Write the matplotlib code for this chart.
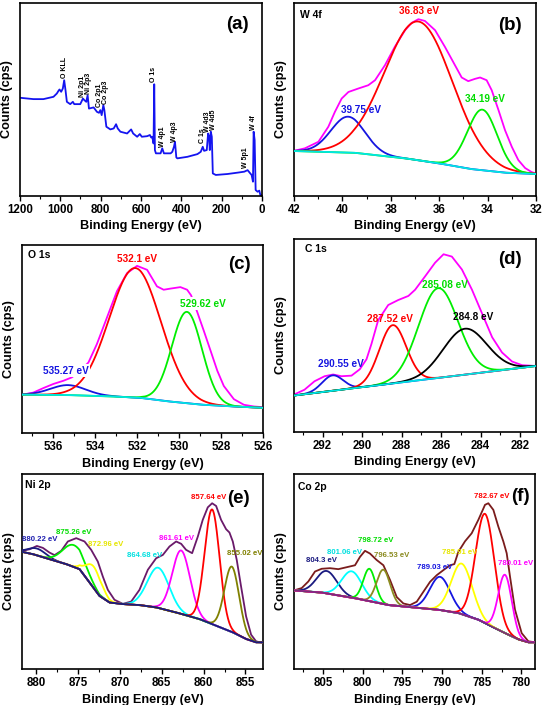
import numpy as np
import matplotlib
matplotlib.use("Agg")
import matplotlib.pyplot as plt
from matplotlib.ticker import MultipleLocator

plt.rcParams['font.family'] = ['Liberation Sans', 'DejaVu Sans']
plt.rcParams['font.weight'] = 'bold'
plt.rcParams['axes.labelweight'] = 'bold'

# ---------------- DATA ----------------
# (a) survey spectrum
survey_be = [1200, 1133.6, 1083.8, 1034.0, 1017.4, 1009.1, 1004.1, 995.9, 987.6, 980.9, 974.3, 967.6,
             951.0, 937.8, 931.1, 901.2, 887.9, 881.3, 871.4, 864.7, 858.1, 834.9, 818.3, 808.3, 801.7,
             795.0, 786.7, 781.7, 771.8, 751.9, 735.3, 723.6, 715.4, 702.1, 668.9, 648.9, 639.0, 619.1,
             605.8, 595.9, 569.3, 556.0, 549.4, 544.4, 537.8, 534.4, 531.1, 526.1, 502.9, 494.6, 486.3,
             453.1, 444.8, 436.5, 431.5, 424.9, 419.9, 370.1, 320.3, 303.7, 293.8, 287.1, 273.9, 267.2,
             262.2, 258.9, 253.9, 248.9, 243.9, 229.0, 170.9, 121.2, 88.0, 71.4, 58.1, 51.5, 44.8, 41.5,
             36.5, 31.5, 21.6, 13.3, 8.3, 0]
survey_counts = [50.9, 50.2, 50.2, 51.4, 53.1, 54.5, 55.2, 54.0, 55.7, 60.0, 54.8, 48.8,
                 47.6, 48.8, 47.6, 47.6, 50.5, 49.7, 48.8, 52.2, 45.3, 45.9, 43.6, 43.1, 44.5,
                 41.9, 47.1, 44.5, 35.9, 34.5, 35.0, 37.2, 35.0, 33.3, 32.4, 34.5, 32.4, 30.7,
                 32.1, 30.7, 31.0, 31.6, 30.3, 30.7, 27.2, 57.9, 23.8, 22.1, 22.1, 24.7, 22.1,
                 22.1, 22.9, 25.5, 28.1, 20.0, 19.5, 20.3, 21.7, 22.9, 25.5, 23.4, 23.8, 32.4,
                 30.7, 23.8, 33.3, 30.7, 11.7, 10.9, 11.4, 12.1, 12.6, 13.4, 11.7, 10.9, 7.4, 33.3,
                 29.0, 3.1, 2.2, 2.8, 0.5, 0.5]
survey_peak_names = ['O KLL', 'Ni 2p1', 'Ni 2p3', 'Co 2p1', 'Co 2p3', 'O 1s', 'W 4p1', 'W 4p3',
                     'C 1s', 'W 4d3', 'W 4d5', 'W 5p1', 'W 4f']
survey_peak_be = [981, 891, 860, 808, 777, 536, 491, 433, 297, 270, 242, 80, 42]
survey_peak_counts = [61.0, 51.4, 53.1, 45.9, 47.9, 59.1, 25.5, 28.1, 27.6, 33.3, 34.1, 14.3, 34.1]

# (b) W 4f
w4f_env_be = [42.00, 41.55, 40.99, 40.58, 40.31, 40.03, 39.75, 39.34, 38.93, 38.65, 38.24, 37.83,
              37.41, 37.14, 36.86, 36.59, 36.17, 35.76, 35.35, 35.07, 34.80, 34.52, 34.31, 34.04,
              33.83, 33.55, 33.28, 33.00, 32.73, 32.45, 32.18, 32.00]
w4f_env_counts = [23.4, 24.7, 28.1, 35.9, 43.6, 50.5, 53.9, 55.7, 57.4, 60.0, 67.8, 77.4,
                  85.9, 89.7, 91.6, 90.7, 85.9, 77.2, 67.8, 61.4, 59.5, 60.7, 61.4, 60.0,
                  54.8, 44.5, 34.1, 25.5, 18.6, 14.5, 12.4, 11.6]
w4f_bg_be = [42.0, 39.5, 37.4, 36.0, 34.7, 33.3, 32.0]
w4f_bg_counts = [23.3, 22.4, 19.5, 16.9, 14.0, 12.1, 11.4]
w4f_centers = [39.77, 36.86, 34.22]
w4f_heights = [18.6, 71.9, 31.4]
w4f_fwhm = [1.65, 3.3, 1.45]
w4f_labels = ['39.75 eV', '36.83 eV', '34.19 eV']

# (c) O 1s
o1s_env_be = [537.48, 536.96, 536.48, 536.00, 535.52, 535.12, 534.72, 534.33, 533.93, 533.45, 532.97,
              532.49, 532.01, 531.53, 531.06, 530.74, 530.42, 529.94, 529.62, 529.43, 529.14, 528.82,
              528.50, 528.18, 527.87, 527.39, 526.91, 526.43, 525.95]
o1s_env_counts = [20.4, 21.5, 23.9, 26.1, 27.8, 29.6, 33.1, 37.5, 47.2, 61.3, 75.4,
                  85.0, 88.9, 86.8, 78.0, 76.2, 76.8, 77.6, 76.2, 73.2, 64.4, 54.2,
                  43.7, 33.1, 25.0, 18.0, 15.0, 14.1, 13.7]
o1s_bg_be = [537.5, 535.36, 533.3, 531.85, 530.58, 528.98, 527.39, 526.0]
o1s_bg_counts = [20.4, 20.2, 19.5, 18.7, 16.9, 15.1, 14.1, 13.4]
o1s_centers = [535.3, 532.1, 529.63]
o1s_heights = [5.3, 68.9, 48.6]
o1s_fwhm = [2.0, 2.9, 1.7]
o1s_labels = ['535.27 eV', '532.1 eV', '529.62 eV']

# (d) C 1s
c1s_env_be = [293.47, 292.92, 292.41, 291.90, 291.47, 291.05, 290.54, 290.12, 289.78, 289.53, 289.19,
              288.68, 288.17, 287.66, 287.32, 286.81, 286.31, 285.88, 285.46, 284.95, 284.44, 283.93,
              283.42, 282.92, 282.41, 281.90, 281.17]
c1s_env_counts = [19.3, 21.9, 26.3, 28.9, 29.8, 28.9, 29.2, 32.5, 37.7, 45.6, 57.9,
                  65.8, 68.4, 70.5, 73.7, 80.7, 87.7, 92.1, 90.9, 84.2, 73.7, 61.4,
                  49.1, 41.2, 36.5, 34.6, 34.2]
c1s_bg_be = [293.45, 287.3, 281.2]
c1s_bg_counts = [18.9, 26.6, 34.2]
c1s_centers = [291.5, 288.45, 286.15, 284.8]
c1s_heights = [8.0, 30.2, 46.5, 23.8]
c1s_fwhm = [1.25, 1.6, 2.35, 2.6]
c1s_labels = ['290.55 eV', '287.52 eV', '285.08 eV', '284.8 eV']

# (e) Ni 2p
ni_env_be = [881.71, 880.80, 879.92, 879.20, 878.41, 877.81, 877.01, 876.22, 875.22, 874.23, 873.43,
             872.64, 872.04, 871.44, 870.65, 869.65, 868.65, 867.66, 866.66, 865.67, 864.87, 864.08,
             863.28, 862.68, 862.09, 861.37, 860.69, 860.10, 859.50, 858.98, 858.50, 857.91, 857.31,
             856.91, 856.51, 856.04, 855.52, 854.92, 854.32, 853.73, 852.93]
ni_env_counts = [60.6, 61.4, 63.1, 62.1, 59.7, 58.4, 60.6, 65.4, 67.1, 65.4, 61.1,
                 55.1, 47.4, 40.6, 35.5, 33.4, 34.6, 40.6, 50.9, 56.8, 58.5, 62.8,
                 65.4, 64.2, 61.1, 59.4, 67.9, 76.5, 82.9, 85.0, 83.6, 76.5, 71.7,
                 70.0, 65.4, 56.0, 42.3, 27.0, 17.6, 14.2, 13.3]
ni_bg_be = [881.71, 880.40, 878.41, 876.42, 874.82, 873.63, 872.44, 871.24, 869.65, 867.66, 865.67,
            863.28, 860.49, 858.50, 856.51, 854.92, 853.73, 852.93]
ni_bg_counts = [60.1, 58.9, 56.3, 53.8, 51.2, 44.4, 37.5, 34.1, 33.3, 32.8, 31.6,
                29.0, 25.6, 22.2, 18.8, 15.4, 13.7, 13.7]
ni_centers = [879.9, 875.5, 873.1, 865.43, 862.68, 858.98, 856.63]
ni_heights = [3.5, 11.2, 11.0, 20.6, 32.5, 58.8, 33.5]
ni_fwhm = [2.5, 3.1, 2.2, 3.07, 2.5, 2.1, 2.07]
ni_labels = ['880.22 eV', '875.26 eV', '872.96 eV', '864.68 eV', '861.61 eV', '857.64 eV', '855.02 eV']

# (f) Co 2p
co_env_be = [808.66, 807.69, 806.85, 806.01, 805.17, 804.12, 803.07, 802.02, 800.97, 800.34, 799.71,
             799.08, 798.24, 797.39, 796.55, 795.71, 794.87, 794.03, 793.19, 792.35, 791.51, 790.67,
             789.83, 788.99, 788.45, 787.94, 787.10, 786.26, 785.42, 784.58, 784.16, 783.53, 782.90,
             782.27, 781.85, 781.43, 780.80, 779.96, 779.12, 778.28]
co_env_counts = [40.3, 41.5, 44.9, 50.0, 51.4, 51.7, 51.2, 52.2, 53.2, 57.5, 60.6,
                 59.2, 55.9, 53.2, 45.6, 36.9, 33.6, 32.8, 34.5, 39.6, 44.7, 48.1,
                 50.7, 53.2, 53.8, 60.1, 65.5, 69.6, 76.5, 84.2, 85.0, 81.6, 73.0,
                 65.4, 59.4, 47.4, 30.4, 18.4, 14.2, 13.7]
co_bg_be = [808.66, 805.17, 800.97, 796.76, 794.66, 790.46, 787.94, 785.42, 783.74, 782.06, 780.38,
            779.12, 778.28]
co_bg_counts = [40.3, 39.2, 36.3, 32.8, 32.0, 30.4, 28.7, 25.3, 21.8, 18.4, 15.2, 13.7, 13.7]
co_centers = [804.54, 801.39, 799.16, 797.39, 790.25, 787.52, 784.58, 782.06]
co_heights = [11.5, 13.5, 16.6, 17.6, 17.0, 25.9, 56.0, 29.9]
co_fwhm = [3.0, 3.0, 1.8, 2.0, 3.0, 3.1, 2.8, 2.0]
co_labels = ['804.3 eV', '801.06 eV', '798.72 eV', '796.53 eV', '789.03 eV', '785.91 eV',
             '782.67 eV', '780.01 eV']

# ---------------- FIGURE ----------------
W, H = 543, 705
fig = plt.figure(figsize=(W / 100, H / 100), dpi=100)


def make_ax(l, r, t, b):
    ax = fig.add_axes([l / W, 1 - b / H, (r - l) / W, (b - t) / H])
    for s in ax.spines.values():
        s.set_linewidth(1.2)
    ax.set_yticks([])
    ax.tick_params(axis='x', which='major', direction='out', length=3.5, width=1.0,
                   labelsize=8.3, pad=2.5)
    ax.tick_params(axis='x', which='minor', direction='out', length=2, width=0.8)
    for lab in ax.get_xticklabels():
        lab.set_fontweight('bold')
    ax.set_xlabel('Binding Energy (eV)', fontsize=9.2, fontweight='bold', labelpad=3)
    ax.set_ylabel('Counts (cps)', fontsize=9.2, fontweight='bold', labelpad=5)
    ax.set_ylim(0, 100)
    return ax


def finish(ax, xmax, xmin, major, minor, name, tag, tagpos, namepos):
    ax.set_xlim(xmax, xmin)
    ax.xaxis.set_major_locator(MultipleLocator(major))
    ax.xaxis.set_minor_locator(MultipleLocator(minor))
    for lab in ax.get_xticklabels():
        lab.set_fontweight('bold')
    if name:
        ax.text(namepos[0], namepos[1], name, transform=ax.transAxes, fontsize=7.5,
                fontweight='bold', ha='left', va='center')
    ax.text(tagpos[0], tagpos[1], tag, transform=ax.transAxes, fontsize=13.5,
            fontweight='bold', ha='center', va='center')


def gauss_on_bg(x, bg_be, bg_y, c, h, w):
    base = np.interp(x, np.asarray(bg_be)[::-1], np.asarray(bg_y)[::-1])
    return base + h * np.exp(-4 * np.log(2) * ((x - c) / w) ** 2)


def fitted_panel(ax, xr, env_be, env_y, bg_be, bg_y, cents, hts, fw, env_col, bg_col, cols, lw=1.3):
    x = np.linspace(xr[0], xr[1], 600)
    ax.plot(env_be, env_y, color=env_col, lw=lw, zorder=2)
    for c, h, w, col in zip(cents, hts, fw, cols):
        ax.plot(x, gauss_on_bg(x, bg_be, bg_y, c, h, w), color=col, lw=lw, zorder=3)
    ax.plot(bg_be, bg_y, color=bg_col, lw=lw, zorder=4)


# (a) survey
axa = make_ax(20, 262, 3, 196)
axa.plot(survey_be, survey_counts, color='#1414f0', lw=1.3)
for nm, be, yy in zip(survey_peak_names, survey_peak_be, survey_peak_counts):
    axa.text(be, yy, nm, rotation=90, ha='center', va='bottom', fontsize=5, fontweight='bold')
finish(axa, 1200, 0, 200, 100, None, '(a)', (0.899, 0.89), None)

# (b) W 4f
axb = make_ax(294, 536, 3, 196)
fitted_panel(axb, (42, 32), w4f_env_be, w4f_env_counts, w4f_bg_be, w4f_bg_counts,
             w4f_centers, w4f_heights, w4f_fwhm, '#ff00ff', '#00e5e5',
             ['#1515e0', '#ff0000', '#00ee00'])
for lab, pos, col in zip(w4f_labels, [(39.23, 44.8), (36.83, 95.7), (34.13, 50.0)],
                         ['#1515e0', '#ff0000', '#00dd00']):
    axb.text(pos[0], pos[1], lab, color=col, fontsize=7.2, fontweight='bold', ha='center', va='center', zorder=6)
finish(axb, 42, 32, 2, 1, 'W 4f', '(b)', (0.891, 0.881), (0.025, 0.936))

# (c) O 1s
axc = make_ax(22, 263, 245, 433)
fitted_panel(axc, (537.5, 526), o1s_env_be, o1s_env_counts, o1s_bg_be, o1s_bg_counts,
             o1s_centers, o1s_heights, o1s_fwhm, '#ff00ff', '#00e5e5',
             ['#1515e0', '#ff0000', '#00ee00'])
for lab, pos, col in zip(o1s_labels, [(535.43, 33.1), (532.01, 92.6), (528.87, 68.7)],
                         ['#1515e0', '#ff0000', '#00dd00']):
    axc.text(pos[0], pos[1], lab, color=col, fontsize=7.2, fontweight='bold', ha='center', va='center',
             zorder=6, bbox=dict(boxstyle='square,pad=0.15', fc='white', ec='none'))
finish(axc, 537.5, 526, 2, 1, 'O 1s', '(c)', (0.903, 0.895), (0.025, 0.945))

# (d) C 1s
axd = make_ax(294, 536, 239, 432)
fitted_panel(axd, (293.45, 281.2), c1s_env_be, c1s_env_counts, c1s_bg_be, c1s_bg_counts,
             c1s_centers, c1s_heights, c1s_fwhm, '#ff00ff', '#00e5e5',
             ['#1515e0', '#ff0000', '#00ee00', '#000000'])
for lab, pos, col in zip(c1s_labels, [(291.1, 35.4), (288.6, 58.8), (285.8, 76.3), (284.36, 59.6)],
                         ['#1515e0', '#ff0000', '#00dd00', '#000000']):
    axd.text(pos[0], pos[1], lab, color=col, fontsize=7.2, fontweight='bold', ha='center', va='center', zorder=6)
finish(axd, 293.45, 281.2, 2, 1, 'C 1s', '(d)', (0.891, 0.895), (0.045, 0.95))

# (e) Ni 2p
axe = make_ax(22, 263, 474, 669)
fitted_panel(axe, (881.7, 852.9), ni_env_be, ni_env_counts, ni_bg_be, ni_bg_counts,
             ni_centers, ni_heights, ni_fwhm, '#6a1a6a', '#1a1a80',
             ['#1a1a80', '#00ee00', '#ffff00', '#00ffff', '#ff00ff', '#ff0000', '#808000'])
ni_pos = [(879.6, 66.2), (875.54, 70.1), (871.7, 63.7), (867.06, 58.0), (863.24, 67.1), (859.34, 88.1), (855.1, 59.0)]
ni_tcol = ['#2020b0', '#00dd00', '#e6e600', '#00e0e0', '#ff00ff', '#ff0000', '#808000']
for lab, pos, col in zip(ni_labels, ni_pos, ni_tcol):
    axe.text(pos[0], pos[1], lab, color=col, fontsize=5.6, fontweight='bold', ha='center', va='center', zorder=6)
finish(axe, 881.7, 852.9, 5, 2.5, 'Ni 2p', '(e)', (0.90, 0.875), (0.011, 0.944))

# (f) Co 2p
axf = make_ax(294, 535, 474, 669)
fitted_panel(axf, (808.66, 778.28), co_env_be, co_env_counts, co_bg_be, co_bg_counts,
             co_centers, co_heights, co_fwhm, '#7a1c1c', '#7a2d7a',
             ['#1a1a80', '#00ffff', '#00ee00', '#8b8b20', '#1515e0', '#ffff00', '#ff0000', '#ff00ff'])
co_pos = [(805.17, 55.6), (802.31, 59.7), (798.40, 65.7), (796.34, 58.0), (790.97, 52.0), (787.82, 59.7),
          (783.74, 88.4), (780.71, 53.9)]
co_tcol = ['#1a1a80', '#00e0e0', '#00dd00', '#8b8b20', '#1515e0', '#e6e600', '#ff0000', '#ff00ff']
for lab, pos, col in zip(co_labels, co_pos, co_tcol):
    axf.text(pos[0], pos[1], lab, color=col, fontsize=5.6, fontweight='bold', ha='center', va='center', zorder=6)
finish(axf, 808.66, 778.28, 5, 2.5, 'Co 2p', '(f)', (0.938, 0.884), (0.018, 0.935))

fig.savefig('out.png', dpi=100)
